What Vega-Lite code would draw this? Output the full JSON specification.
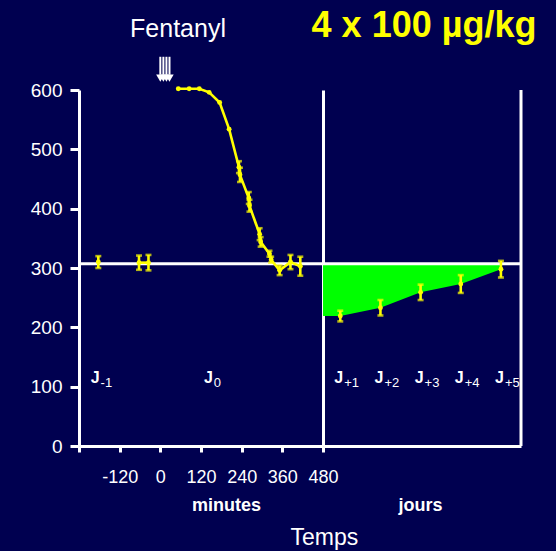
{
  "$schema": "https://vega.github.io/schema/vega-lite/v6.json",
  "background": "#000050",
  "autosize": {"type": "pad"},
  "padding": {"left": 30, "top": 7, "right": 22, "bottom": 5},
  "bounds": "flush",
  "spacing": 0,
  "title": {
    "text": "Temps", "orient": "bottom", "anchor": "middle", "dx": 41, "offset": 13,
    "fontSize": 23, "fontWeight": "normal", "color": "white", "font": "Liberation Sans"
  },
  "datasets": {
    "minutes": [
      {"t": -183, "v": 310, "err": 10, "seg": "J-1"},
      {"t": -63, "v": 309, "err": 12, "seg": "pre"},
      {"t": -35, "v": 309, "err": 13, "seg": "pre"},
      {"t": 53, "v": 602, "err": 0, "seg": "post"},
      {"t": 85, "v": 602, "err": 0, "seg": "post"},
      {"t": 115, "v": 602, "err": 0, "seg": "post"},
      {"t": 144, "v": 596, "err": 0, "seg": "post"},
      {"t": 175, "v": 579, "err": 0, "seg": "post"},
      {"t": 203, "v": 534, "err": 0, "seg": "post"},
      {"t": 232, "v": 470, "err": 10, "seg": "post"},
      {"t": 235, "v": 457, "err": 12, "seg": "post"},
      {"t": 261, "v": 418, "err": 10, "seg": "post"},
      {"t": 263, "v": 405, "err": 10, "seg": "post"},
      {"t": 293, "v": 357, "err": 10, "seg": "post"},
      {"t": 296, "v": 344, "err": 8, "seg": "post"},
      {"t": 322, "v": 324, "err": 5, "seg": "post"},
      {"t": 327, "v": 314, "err": 5, "seg": "post"},
      {"t": 352, "v": 296, "err": 8, "seg": "post"},
      {"t": 384, "v": 310, "err": 12, "seg": "post"},
      {"t": 413, "v": 303, "err": 16, "seg": "post"}
    ],
    "days": [
      {"d": 1, "v": 219, "err": 9},
      {"d": 2, "v": 233, "err": 13},
      {"d": 3, "v": 259, "err": 13},
      {"d": 4, "v": 273, "err": 15},
      {"d": 5, "v": 298, "err": 14}
    ],
    "fill": [
      {"d": 0.57, "v": 219},
      {"d": 1, "v": 219},
      {"d": 2, "v": 233},
      {"d": 3, "v": 259},
      {"d": 4, "v": 273},
      {"d": 5, "v": 298}
    ],
    "doses": [{"t": 0}, {"t": 9}, {"t": 18}, {"t": 27}],
    "jLeft": [{"t": -188, "sub": "-1"}, {"t": 146, "sub": "\u00a00"}],
    "jRight": [
      {"d": 1, "sub": "+1"}, {"d": 2, "sub": "+2"}, {"d": 3, "sub": "+3"},
      {"d": 4, "sub": "+4"}, {"d": 5, "sub": "+5"}
    ]
  },
  "hconcat": [
    {
      "width": 244,
      "height": 356,
      "title": {
        "text": "Fentanyl", "anchor": "middle", "dx": -23, "offset": 14,
        "fontSize": 25, "fontWeight": "normal", "color": "white", "font": "Liberation Sans"
      },
      "layer": [
        {
          "data": {"values": [{}]},
          "mark": {"type": "rule", "color": "white", "strokeWidth": 3},
          "encoding": {"y": {"datum": 307, "type": "quantitative"}}
        },
        {
          "data": {"name": "minutes"},
          "mark": {"type": "line", "color": "#ffff00", "strokeWidth": 2.6},
          "encoding": {
            "x": {
              "field": "t", "type": "quantitative",
              "scale": {"domain": [-240, 480], "nice": false, "zero": false},
              "axis": {
                "values": [-240, -120, 0, 120, 240, 360, 480],
                "labelExpr": "datum.value == -240 ? '' : '' + datum.value",
                "labelFlush": false, "labelOverlap": false,
                "tickSize": 6, "labelPadding": 16.5,
                "title": "minutes", "titleFontWeight": "bold", "titleFontSize": 18,
                "titleX": 147, "titleY": 64, "titleBaseline": "alphabetic", "titleAlign": "center"
              }
            },
            "y": {
              "field": "v", "type": "quantitative",
              "scale": {"domain": [0, 600], "nice": false},
              "axis": {
                "values": [0, 100, 200, 300, 400, 500, 600],
                "tickSize": 9, "labelPadding": 8, "labelFontSize": 19, "title": null
              }
            },
            "detail": {"field": "seg"}
          }
        },
        {
          "data": {"name": "minutes"},
          "transform": [{"filter": "datum.err > 0"}],
          "mark": {
            "type": "errorbar", "color": "#ffff00", "thickness": 2.6,
            "ticks": {"size": 6, "thickness": 2.6, "color": "#ffff00"}
          },
          "encoding": {
            "x": {"field": "t", "type": "quantitative"},
            "y": {"field": "v", "type": "quantitative"},
            "yError": {"field": "err"}
          }
        },
        {
          "data": {"name": "minutes"},
          "mark": {"type": "point", "filled": true, "size": 24, "color": "#ffff00", "opacity": 1},
          "encoding": {
            "x": {"field": "t", "type": "quantitative"},
            "y": {"field": "v", "type": "quantitative"}
          }
        },
        {
          "data": {"name": "doses"},
          "mark": {"type": "rule", "color": "white", "strokeWidth": 2},
          "encoding": {
            "x": {"field": "t", "type": "quantitative"},
            "y": {"datum": 656, "type": "quantitative"},
            "y2": {"datum": 626}
          }
        },
        {
          "data": {"name": "doses"},
          "mark": {"type": "point", "shape": "triangle-down", "filled": true, "size": 70, "color": "white", "opacity": 1},
          "encoding": {
            "x": {"field": "t", "type": "quantitative"},
            "y": {"datum": 620, "type": "quantitative"}
          }
        },
        {
          "data": {"name": "jLeft"},
          "mark": {"type": "text", "align": "right", "baseline": "alphabetic", "dx": 3, "fontSize": 16, "fontWeight": "bold", "color": "white"},
          "encoding": {
            "x": {"field": "t", "type": "quantitative"},
            "y": {"datum": 106, "type": "quantitative"},
            "text": {"value": "J"}
          }
        },
        {
          "data": {"name": "jLeft"},
          "mark": {"type": "text", "align": "left", "baseline": "alphabetic", "dx": 4, "dy": 3.5, "fontSize": 13, "color": "white"},
          "encoding": {
            "x": {"field": "t", "type": "quantitative"},
            "y": {"datum": 106, "type": "quantitative"},
            "text": {"field": "sub"}
          }
        }
      ]
    },
    {
      "width": 198,
      "height": 356,
      "title": {
        "text": "4 x 100 µg/kg", "anchor": "middle", "dx": 2, "offset": 44,
        "fontSize": 36, "fontWeight": "bold", "color": "#ffff00", "font": "Liberation Sans"
      },
      "layer": [
        {
          "data": {"name": "fill"},
          "mark": {"type": "area", "color": "#00ff00", "opacity": 1},
          "encoding": {
            "x": {
              "field": "d", "type": "quantitative",
              "scale": {"domain": [0.57, 5.5], "nice": false, "zero": false},
              "axis": {
                "ticks": false, "labels": false,
                "title": "jours", "titleFontWeight": "bold", "titleFontSize": 18,
                "titleX": 97, "titleY": 64, "titleBaseline": "alphabetic", "titleAlign": "center"
              }
            },
            "y": {
              "field": "v", "type": "quantitative",
              "scale": {"domain": [0, 600], "nice": false},
              "axis": {"ticks": false, "labels": false, "title": null}
            },
            "y2": {"datum": 307}
          }
        },
        {
          "data": {"values": [{}]},
          "mark": {"type": "rule", "color": "white", "strokeWidth": 3},
          "encoding": {"y": {"datum": 307, "type": "quantitative"}}
        },
        {
          "data": {"values": [{}]},
          "mark": {"type": "rule", "color": "white", "strokeWidth": 3},
          "encoding": {
            "x": {"datum": 5.5, "type": "quantitative"},
            "y": {"datum": 0, "type": "quantitative"},
            "y2": {"datum": 600}
          }
        },
        {
          "data": {"name": "days"},
          "mark": {
            "type": "errorbar", "color": "#ffff00", "thickness": 2.6,
            "ticks": {"size": 6, "thickness": 2.6, "color": "#ffff00"}
          },
          "encoding": {
            "x": {"field": "d", "type": "quantitative"},
            "y": {"field": "v", "type": "quantitative"},
            "yError": {"field": "err"}
          }
        },
        {
          "data": {"name": "days"},
          "mark": {"type": "point", "filled": true, "size": 24, "color": "#ffff00", "opacity": 1},
          "encoding": {
            "x": {"field": "d", "type": "quantitative"},
            "y": {"field": "v", "type": "quantitative"}
          }
        },
        {
          "data": {"name": "jRight"},
          "mark": {"type": "text", "align": "right", "baseline": "alphabetic", "dx": 3, "fontSize": 16, "fontWeight": "bold", "color": "white"},
          "encoding": {
            "x": {"field": "d", "type": "quantitative"},
            "y": {"datum": 106, "type": "quantitative"},
            "text": {"value": "J"}
          }
        },
        {
          "data": {"name": "jRight"},
          "mark": {"type": "text", "align": "left", "baseline": "alphabetic", "dx": 4, "dy": 3.5, "fontSize": 13, "color": "white"},
          "encoding": {
            "x": {"field": "d", "type": "quantitative"},
            "y": {"datum": 106, "type": "quantitative"},
            "text": {"field": "sub"}
          }
        }
      ]
    }
  ],
  "config": {
    "view": {"stroke": null},
    "font": "Liberation Sans",
    "axis": {
      "grid": false,
      "domainColor": "white", "domainWidth": 3,
      "tickColor": "white", "tickWidth": 3,
      "labelColor": "white", "labelFont": "Liberation Sans", "labelFontSize": 18,
      "titleColor": "white", "titleFont": "Liberation Sans"
    }
  }
}
